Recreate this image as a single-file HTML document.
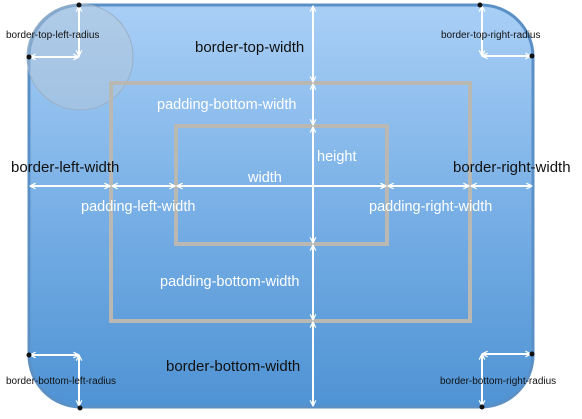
<!DOCTYPE html>
<html><head><meta charset="utf-8"><style>
html,body{margin:0;padding:0;background:#fff;width:582px;height:419px;overflow:hidden}
svg{display:block}
text{font-family:"Liberation Sans",sans-serif}
</style></head><body>
<svg width="582" height="419" viewBox="0 0 582 419">
<defs>
<linearGradient id="bg" x1="0" y1="0" x2="0" y2="1">
<stop offset="0" stop-color="#a9cff6"/><stop offset="0.5" stop-color="#79b0e6"/><stop offset="1" stop-color="#4f93d4"/>
</linearGradient>
<marker id="ah" viewBox="0 0 10 10" refX="9" refY="5" markerWidth="7" markerHeight="7" orient="auto-start-reverse" markerUnits="userSpaceOnUse">
<path d="M1 1 L9 5 L1 9" fill="none" stroke="#fff" stroke-width="1.8"/>
</marker>
</defs>
<rect x="29" y="5" width="504" height="402" rx="52" ry="52" fill="url(#bg)" stroke="#5a90c6" stroke-width="3"/>
<circle cx="80" cy="57" r="53" fill="#b8c8d8" fill-opacity="0.45" stroke="#9ab0c6" stroke-width="1"/>
<rect x="111" y="83" width="359" height="238" fill="none" stroke="#b9b8b2" stroke-width="4"/>
<rect x="176" y="126" width="211" height="118" fill="none" stroke="#b9b8b2" stroke-width="4"/>
<g stroke="#fff" stroke-width="2" fill="none">
<line x1="313" y1="6" x2="313" y2="82" marker-start="url(#ah)" marker-end="url(#ah)"/>
<line x1="313" y1="84" x2="313" y2="125" marker-start="url(#ah)" marker-end="url(#ah)"/>
<line x1="313" y1="127" x2="313" y2="243" marker-start="url(#ah)" marker-end="url(#ah)"/>
<line x1="313" y1="245" x2="313" y2="320" marker-start="url(#ah)" marker-end="url(#ah)"/>
<line x1="313" y1="322" x2="313" y2="406" marker-start="url(#ah)" marker-end="url(#ah)"/>
<line x1="30" y1="186" x2="110" y2="186" marker-start="url(#ah)" marker-end="url(#ah)"/>
<line x1="112" y1="186" x2="175" y2="186" marker-start="url(#ah)" marker-end="url(#ah)"/>
<line x1="177" y1="186" x2="386" y2="186" marker-start="url(#ah)" marker-end="url(#ah)"/>
<line x1="388" y1="186" x2="469" y2="186" marker-start="url(#ah)" marker-end="url(#ah)"/>
<line x1="471" y1="186" x2="532" y2="186" marker-start="url(#ah)" marker-end="url(#ah)"/>
<line x1="79" y1="6" x2="79" y2="56" marker-start="url(#ah)" marker-end="url(#ah)"/>
<line x1="30" y1="57" x2="79" y2="57" marker-start="url(#ah)" marker-end="url(#ah)"/>
<line x1="482" y1="6" x2="482" y2="56" marker-start="url(#ah)" marker-end="url(#ah)"/>
<line x1="482" y1="56" x2="531" y2="56" marker-start="url(#ah)" marker-end="url(#ah)"/>
<line x1="30" y1="355" x2="79" y2="355" marker-start="url(#ah)" marker-end="url(#ah)"/>
<line x1="79" y1="355" x2="79" y2="406" marker-start="url(#ah)" marker-end="url(#ah)"/>
<line x1="482" y1="354" x2="531" y2="354" marker-start="url(#ah)" marker-end="url(#ah)"/>
<line x1="482" y1="354" x2="482" y2="406" marker-start="url(#ah)" marker-end="url(#ah)"/>
</g>
<g fill="#111">
<circle cx="79" cy="5" r="2.5"/><circle cx="29" cy="57" r="2.5"/>
<circle cx="480" cy="5" r="2.5"/><circle cx="532" cy="56" r="2.5"/>
<circle cx="29" cy="355" r="2.5"/><circle cx="80" cy="408" r="2.5"/>
<circle cx="532" cy="354" r="2.5"/><circle cx="482" cy="407" r="2.5"/>
</g>
<g font-size="10" fill="#111">
<text x="6" y="38">border-top-left-radius</text>
<text x="441" y="38">border-top-right-radius</text>
<text x="6" y="384">border-bottom-left-radius</text>
<text x="440" y="384">border-bottom-right-radius</text>
</g>
<g font-size="15" fill="#111">
<text x="195" y="52">border-top-width</text>
<text x="11" y="172">border-left-width</text>
<text x="453" y="172">border-right-width</text>
<text x="166" y="371">border-bottom-width</text>
</g>
<g font-size="14.5" fill="#fff">
<text x="157" y="109">padding-bottom-width</text>
<text x="317" y="161">height</text>
<text x="248" y="182">width</text>
<text x="81" y="211">padding-left-width</text>
<text x="369" y="211">padding-right-width</text>
<text x="160" y="286">padding-bottom-width</text>
</g>
</svg>
</body></html>
